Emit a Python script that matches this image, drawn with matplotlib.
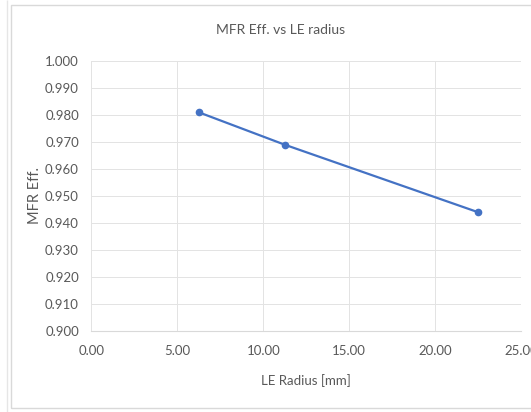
import matplotlib.pyplot as plt
from matplotlib.patches import Rectangle

# data
le_radius = [6.25, 11.25, 22.5]
mfr_eff = [0.981, 0.969, 0.944]
x_ticks = [0, 5, 10, 15, 20, 25]
y_ticks = [0.90 + 0.01 * i for i in range(11)]

plt.rcParams['font.family'] = ['Lato', 'DejaVu Sans']
txt = '#595959'
grid = '#e3e3e3'

fig = plt.figure(figsize=(5.31, 4.12), dpi=100)
# chart border, like the Excel frame
fig.patches.append(Rectangle((11 / 531, 4 / 412), 1.0, 403 / 412, transform=fig.transFigure,
                             fill=False, edgecolor='#d9d9d9', linewidth=1))
fig.patches.append(Rectangle((7 / 531, 0), 0.0, 1.0, transform=fig.transFigure,
                             fill=False, edgecolor='#e6e6e6', linewidth=1))

ax = fig.add_axes([91.4 / 531, 1 - 331 / 412, (521 - 91.4) / 531, 270 / 412])
ax.plot(le_radius, mfr_eff, color='#4472C4', linewidth=1.6, marker='o', markersize=4.5)

ax.set_xlim(0, 25)
ax.set_ylim(0.9, 1.0)
ax.set_xticks(x_ticks)
ax.set_xticklabels([f'{v:.2f}' for v in x_ticks])
ax.set_yticks(y_ticks)
ax.set_yticklabels([f'{v:.3f}' for v in y_ticks])
ax.grid(True, color=grid, linewidth=0.7)
ax.set_axisbelow(True)
for s in ['top', 'right', 'left']:
    ax.spines[s].set_visible(False)
ax.spines['bottom'].set_color('#d9d9d9')
ax.tick_params(length=0, colors=txt, labelsize=9.5)
ax.tick_params(axis='x', pad=10)
ax.tick_params(axis='y', pad=9)
for lab in ax.get_xticklabels() + ax.get_yticklabels():
    lab.set_color(txt)

# title is centred on the whole chart frame, not the plot area
fig.text(281 / 531, 1 - 30 / 412, 'MFR Eff. vs LE radius', ha='center', va='center',
         color=txt, fontsize=10)
fig.text(306 / 531, 1 - 381 / 412, 'LE Radius [mm]', ha='center', va='center',
         color=txt, fontsize=9.5)
fig.text(35 / 531, 1 - 196 / 412, 'MFR Eff.', ha='center', va='center', rotation=90,
         color=txt, fontsize=10.5)

fig.savefig('out.png', dpi=100)
